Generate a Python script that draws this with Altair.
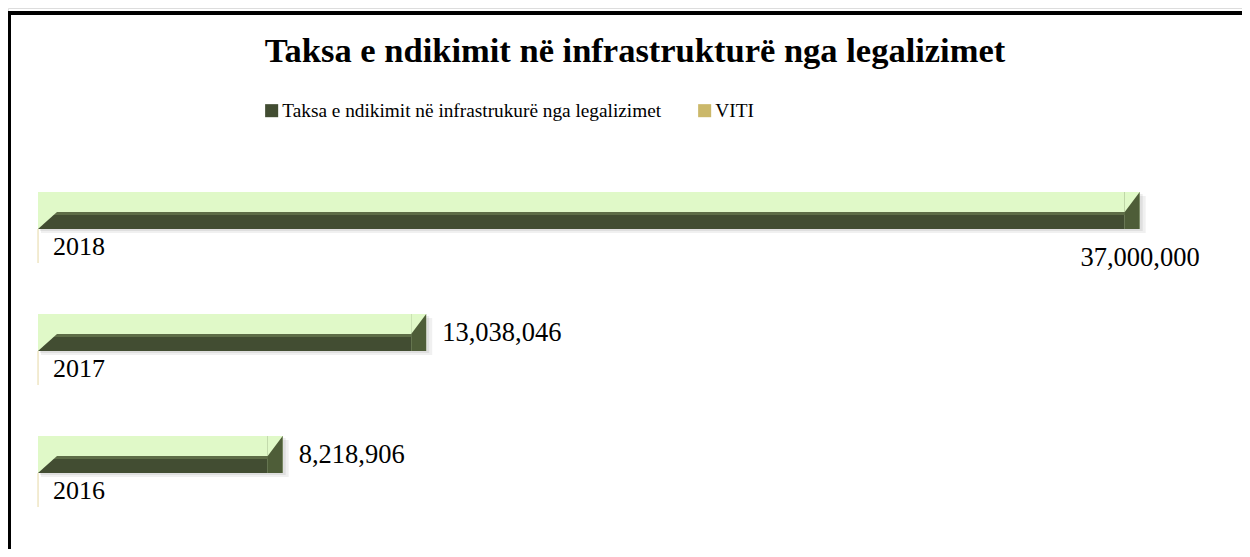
import altair as alt
import pandas as pd

TITLE = "Taksa e ndikimit në infrastrukturë nga legalizimet"
SERIES_1 = "Taksa e ndikimit në infrastrukurë nga legalizimet"
SERIES_2 = "VITI"

years = ["2018", "2017", "2016"]
taksa = [37000000, 13038046, 8218906]
viti = [2018, 2017, 2016]

LIGHT = "#e0f9c8"
DARK = "#424d32"
SIDE = "#4e5d38"
TAN = "#cbb86a"
FONT = "Liberation Serif"

df = pd.DataFrame({"cat": years, "taksa": taksa, "viti": viti})

xs = alt.Scale(domain=[0, 40000000], range=[30, 1221])
ys = alt.Scale(domain=years, range=[158.5, 524.5], paddingInner=0, paddingOuter=0)
Y = alt.Y("cat:N", scale=ys, axis=None)

base = alt.Chart(df).transform_calculate(zero="0")

shadow1 = base.mark_bar(height=37, yOffset=-13, xOffset=3, x2Offset=6, color="#000000", opacity=0.06).encode(
    x=alt.X("zero:Q", scale=xs, axis=None), x2="taksa:Q", y=Y)
shadow2 = base.mark_bar(height=37, yOffset=-15, xOffset=2, x2Offset=3, color="#000000", opacity=0.07).encode(
    x=alt.X("zero:Q", scale=xs, axis=None), x2="taksa:Q", y=Y)

light = base.mark_bar(height=37, yOffset=-17, color=LIGHT).encode(
    x=alt.X("zero:Q", scale=xs, axis=None), x2="taksa:Q", y=Y)

color_scale = alt.Scale(domain=[SERIES_1, SERIES_2], range=[DARK, TAN])
legend = alt.Legend(title=None, orient="none", legendX=254, legendY=93, direction="horizontal",
                    symbolType="square", symbolSize=170, labelFont=FONT, labelFontSize=19.3,
                    labelColor="#000000", columnPadding=33, labelOffset=1, symbolStrokeWidth=0,
                    labelLimit=800)

front = base.transform_calculate(series=f"'{SERIES_1}'").mark_bar(height=17, yOffset=-7, x2Offset=-15).encode(
    x=alt.X("zero:Q", scale=xs, axis=None), x2="taksa:Q", y=Y,
    color=alt.Color("series:N", scale=color_scale, legend=legend))

front_hi = base.mark_bar(height=3, yOffset=-14, x2Offset=-15, color="#5e6d47").encode(
    x=alt.X("zero:Q", scale=xs, axis=None), x2="taksa:Q", y=Y)

side = base.mark_bar(height=37, yOffset=-17, xOffset=-15, color=SIDE).encode(
    x=alt.X("taksa:Q", scale=xs, axis=None), x2="taksa:Q", y=Y)

tri_right = base.mark_point(shape="M0,0 L-0.75,0 L-0.75,1 Z", filled=True, size=1600, opacity=1,
                            strokeWidth=0, yOffset=-35.5, color=LIGHT).encode(
    x=alt.X("taksa:Q", scale=xs, axis=None), y=Y)

tri_left = base.mark_point(shape="M0,0 L0.95,0 L0,0.85 Z", filled=True, size=1600, opacity=1,
                           strokeWidth=0, yOffset=-15.5, color=LIGHT).encode(
    x=alt.X("zero:Q", scale=xs, axis=None), y=Y)

viti_bar = base.transform_calculate(series=f"'{SERIES_2}'").mark_bar(
    height=34, yOffset=18.5, stroke="#efe6c4", strokeWidth=1).encode(
    x=alt.X("zero:Q", scale=xs, axis=None), x2="viti:Q", y=Y,
    color=alt.Color("series:N", scale=color_scale, legend=legend))

viti_lbl = base.mark_text(align="left", baseline="middle", dx=15, yOffset=19.5, font=FONT, fontSize=26,
                          color="#000000").encode(
    x=alt.X("viti:Q", scale=xs, axis=None), y=Y, text=alt.Text("viti:Q", format="d"))

val_base = base.transform_joinaggregate(mx="max(taksa)")
val_lbl = val_base.transform_filter("datum.taksa < datum.mx").mark_text(
    align="left", baseline="middle", dx=16, yOffset=-17, font=FONT, fontSize=26.5, color="#000000").encode(
    x=alt.X("taksa:Q", scale=xs, axis=None), y=Y, text=alt.Text("taksa:Q", format=",d"))
max_lbl = val_base.transform_filter("datum.taksa == datum.mx").mark_text(
    align="right", baseline="middle", dx=60, yOffset=30.5, font=FONT, fontSize=26.5, color="#000000").encode(
    x=alt.X("taksa:Q", scale=xs, axis=None), y=Y, text=alt.Text("taksa:Q", format=",d"))

one = alt.Chart(pd.DataFrame({"t": [TITLE]}))
title = one.mark_text(align="center", baseline="alphabetic", font=FONT, fontSize=34.5, fontWeight="bold",
                      color="#000000").encode(x=alt.value(627), y=alt.value(54), text="t:N")
border_left = one.mark_rule(color="#000000", strokeWidth=4).encode(
    x=alt.value(1), y=alt.value(3), y2=alt.value(600))
border_top = one.mark_rule(color="#000000", strokeWidth=4).encode(
    x=alt.value(-1), x2=alt.value(1300), y=alt.value(5))

chart = alt.layer(shadow1, shadow2, light, front, front_hi, side, tri_right, tri_left, viti_bar, viti_lbl,
                  val_lbl, max_lbl, title, border_left, border_top).properties(
    width=1234, height=541, padding=0, autosize=alt.AutoSizeParams(type="none")
).configure_view(stroke=None).configure(background="#ffffff")

chart.save("out.html", embed_options={"renderer": "svg", "actions": False})
